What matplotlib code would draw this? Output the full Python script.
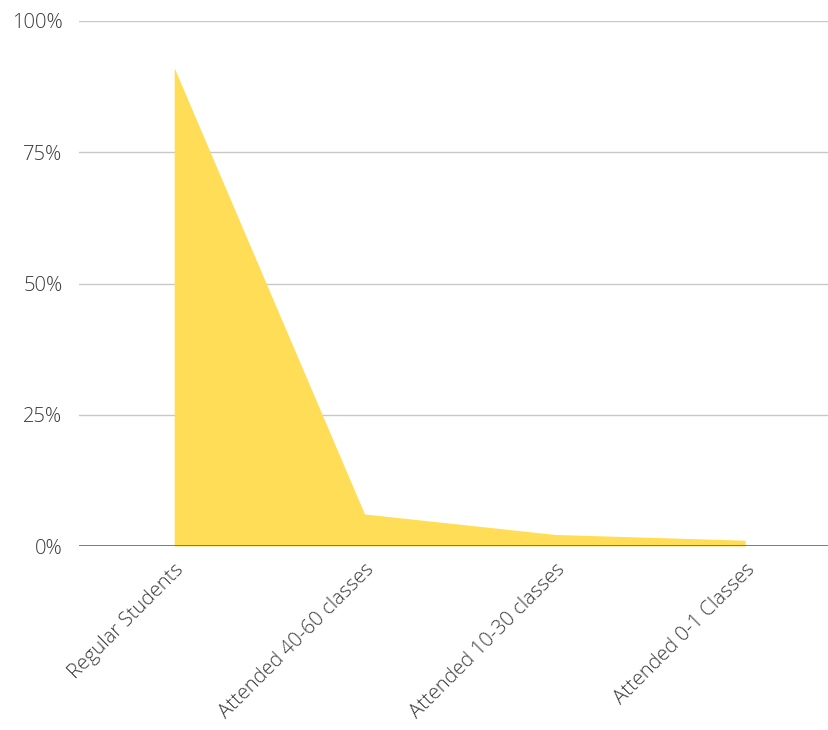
import matplotlib.pyplot as plt

plt.rcParams['font.family'] = ['Open Sans', 'DejaVu Sans']

# categories and share of students
categories = ['Regular Students', 'Attended 40-60 classes', 'Attended 10-30 classes', 'Attended 0-1 Classes']
share = [91.1, 6.1, 2.2, 1.1]
yticks = [0, 25, 50, 75, 100]
ytick_labels = ['0%', '25%', '50%', '75%', '100%']

W, H = 829, 730
fig = plt.figure(figsize=(W / 100, H / 100), dpi=100)
ax = fig.add_axes([79 / W, (H - 546) / H, (829 - 79) / W, (546 - 21) / H])

x = list(range(len(categories)))
ax.fill_between(x, 0, share, color='#FFDD57', linewidth=0, zorder=2)

ax.set_xlim(-0.5, 3.44)
ax.set_ylim(0, 100)
ax.set_yticks(yticks)
ax.set_yticklabels(ytick_labels, fontweight='light')
ax.set_xticks(x)
ax.set_xticklabels(categories, rotation=45, ha='right', rotation_mode='anchor', fontweight='light')

ax.grid(axis='y', color='#c8c8c8', linewidth=1, zorder=0)
ax.axhline(0, color='#666666', linewidth=1.2, zorder=3)
for s in ax.spines.values():
    s.set_visible(False)
ax.tick_params(axis='both', length=0, labelsize=14.5, colors='#3a3a3a')
ax.tick_params(axis='y', pad=12)
ax.tick_params(axis='x', pad=10)

fig.savefig('out.png', dpi=100)
